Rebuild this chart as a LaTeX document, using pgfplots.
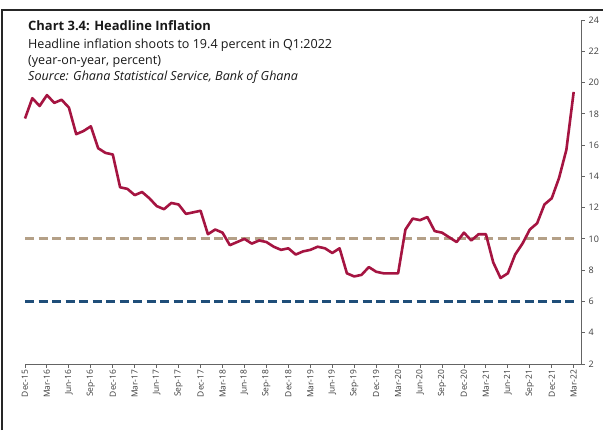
\documentclass[border=0pt]{standalone}
\usepackage{pgfplots}
\pgfplotsset{compat=1.18}
\usepackage{fontspec}
\setmainfont{Open Sans}
\definecolor{infl}{RGB}{165,20,65}
\definecolor{tanl}{RGB}{180,160,135}
\definecolor{navy}{RGB}{31,78,121}
\definecolor{axgray}{RGB}{100,100,100}
\definecolor{txtgray}{RGB}{60,60,60}
\definecolor{ttl}{RGB}{25,25,25}
\pgfplotstableread{
x y
0 17.7
1 19.0
2 18.5
3 19.2
4 18.7
5 18.9
6 18.4
7 16.7
8 16.9
9 17.2
10 15.8
11 15.5
12 15.4
13 13.3
14 13.2
15 12.8
16 13.0
17 12.6
18 12.1
19 11.9
20 12.3
21 12.2
22 11.6
23 11.7
24 11.8
25 10.3
26 10.6
27 10.4
28 9.6
29 9.8
30 10.0
31 9.7
32 9.9
33 9.8
34 9.5
35 9.3
36 9.4
37 9.0
38 9.2
39 9.3
40 9.5
41 9.4
42 9.1
43 9.4
44 7.8
45 7.6
46 7.7
47 8.2
48 7.9
49 7.8
50 7.8
51 7.8
52 10.6
53 11.3
54 11.2
55 11.4
56 10.5
57 10.4
58 10.1
59 9.8
60 10.4
61 9.9
62 10.3
63 10.3
64 8.5
65 7.5
66 7.8
67 9.0
68 9.7
69 10.6
70 11.0
71 12.2
72 12.6
73 13.9
74 15.7
75 19.4
}\infl
\begin{document}
\begin{tikzpicture}[x=1bp,y=1bp]
\fill[white] (0,0) rectangle (603,430);
\draw[line width=1.2bp, black!85] (2,0) -- (2,420) -- (603,420);
\begin{axis}[
  at={(25bp,66bp)}, anchor=south west,
  scale only axis, width=556bp, height=344bp,
  xmin=0, xmax=76, ymin=2, ymax=24,
  axis x line*=bottom, axis y line*=right,
  axis line style={axgray, line width=1bp, -},
  xtick={0,3,...,75},
  xticklabels={Dec-15,Mar-16,Jun-16,Sep-16,Dec-16,Mar-17,Jun-17,Sep-17,Dec-17,Mar-18,Jun-18,Sep-18,Dec-18,Mar-19,Jun-19,Sep-19,Dec-19,Mar-20,Jun-20,Sep-20,Dec-20,Mar-21,Jun-21,Sep-21,Dec-21,Mar-22},
  x tick label style={rotate=90, anchor=east, font=\fontsize{8.5}{9}\selectfont, text=txtgray, inner sep=2bp},
  ytick={2,4,...,24},
  y tick label style={anchor=west, font=\fontsize{9}{10}\selectfont, text=txtgray, inner sep=2bp, xshift=2bp},
  /pgf/number format/assume math mode=true,
  tick align=outside, major tick length=3.5bp,
  tick style={axgray, line width=0.9bp},
  clip=false,
]
\addplot[tanl, line width=2.9bp, dash pattern=on 9bp off 4.5bp] coordinates {(0,10) (75,10)};
\addplot[navy, line width=2.7bp, dash pattern=on 9bp off 4.5bp] coordinates {(0,6) (75,6)};
\addplot[infl, line width=2.6bp, line join=round] table[x=x,y=y] {\infl};
\end{axis}
\node[anchor=base west, font=\bfseries\fontsize{13}{15}\selectfont, text=ttl, inner sep=0] at (28,399) {Chart 3.4: Headline Inflation};
\node[anchor=base west, font=\fontsize{12.6}{14}\selectfont, text=ttl, inner sep=0] at (28,382) {Headline inflation shoots to 19.4 percent in Q1:2022};
\node[anchor=base west, font=\fontsize{12.6}{14}\selectfont, text=ttl, inner sep=0] at (28,366) {(year-on-year, percent)};
\node[anchor=base west, font=\itshape\fontsize{12.6}{14}\selectfont, text=ttl, inner sep=0] at (28,350) {Source: Ghana Statistical Service, Bank of Ghana};
\pgfresetboundingbox
\path (0,0) rectangle (603,430);
\end{tikzpicture}
\end{document}
